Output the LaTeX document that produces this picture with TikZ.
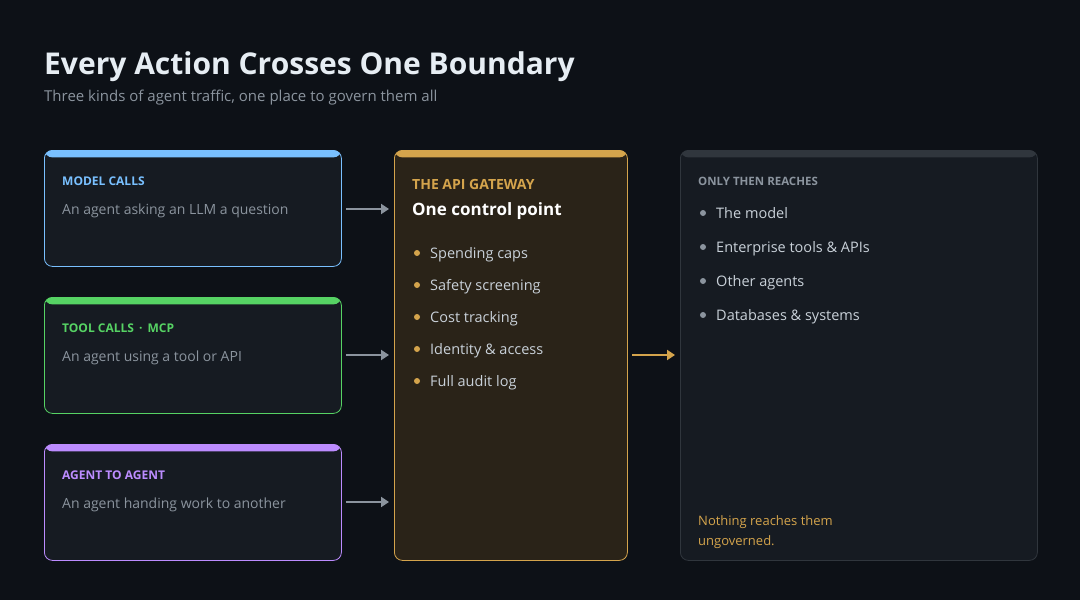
\documentclass[tikz,border=0pt]{standalone}
\usepackage{fontspec}
\setmainfont{Open Sans}
\usetikzlibrary{arrows.meta}
\definecolor{bg}{HTML}{0D1117}
\definecolor{cardbg}{HTML}{161B22}
\definecolor{cblue}{HTML}{79C0FF}
\definecolor{cgreen}{HTML}{56D364}
\definecolor{cpurple}{HTML}{BC8CFF}
\definecolor{gold}{HTML}{D4A44C}
\definecolor{gatebg}{HTML}{2A2318}
\definecolor{edge}{HTML}{30363D}
\definecolor{muted}{HTML}{8B949E}
\definecolor{light}{HTML}{C9D1D9}
\definecolor{titlec}{HTML}{E6EDF3}
\newcommand{\fs}[1]{\fontsize{#1}{#1}\selectfont}
\tikzset{
  card/.style 2 args={draw=#1, fill=#2, line width=0.8pt, rounded corners=8pt, anchor=north west,
    path picture={\fill[#1] (path picture bounding box.north west) rectangle ([yshift=-7pt]path picture bounding box.north east);}},
  txt/.style={anchor=base west, inner sep=0pt},
  garrow/.style={-{Triangle[length=8pt,width=10pt]}, line width=2.5pt},
  dot/.style={circle, inner sep=0pt, minimum size=6pt}
}
\begin{document}
\begin{tikzpicture}[x=1pt,y=-1pt]
\fill[bg] (0,0) rectangle (1080,600);
\useasboundingbox (0,0) rectangle (1080,600);
\node[txt, text=titlec, font=\fs{30}\bfseries] (title) at (44,74) {Every Action Crosses One Boundary};
\node[txt, text=muted, font=\fs{15}] (sub) at (44,101) {Three kinds of agent traffic, one place to govern them all};
% cards
\node[card={cblue}{cardbg}, minimum width=297pt, minimum height=116pt] (c1) at (44,150) {};
\node[card={cgreen}{cardbg}, minimum width=297pt, minimum height=116pt] (c2) at (44,297) {};
\node[card={cpurple}{cardbg}, minimum width=297pt, minimum height=116pt] (c3) at (44,444) {};
\node[txt, text=cblue, font=\fs{12}\bfseries] (h1) at (62,185) {MODEL CALLS};
\node[txt, text=muted, font=\fs{14}] (b1) at (62,214) {An agent asking an LLM a question};
\node[txt, text=cgreen, font=\fs{12}\bfseries] (h2) at (62,332) {TOOL CALLS \,·\, MCP};
\node[txt, text=muted, font=\fs{14}] (b2) at (62,361) {An agent using a tool or API};
\node[txt, text=cpurple, font=\fs{12}\bfseries] (h3) at (62,479) {AGENT TO AGENT};
\node[txt, text=muted, font=\fs{14}] (b3) at (62,508) {An agent handing work to another};
% gateway
\node[card={gold}{gatebg}, minimum width=233pt, minimum height=410pt] (gw) at (394,150) {};
\node[txt, text=gold, font=\fs{14}\bfseries] (gh) at (412,189) {THE API GATEWAY};
\node[txt, text=white, font=\fs{17}\bfseries] (gt) at (412,215) {One control point};
\foreach \t [count=\i] in {Spending caps,Safety screening,Cost tracking,Identity \& access,Full audit log}{
  \node[dot, fill=gold] (gd\i) at (417,{253+32*(\i-1)}) {};
  \node[txt, text=light, font=\fs{14.5}] (gl\i) at (430,{258+32*(\i-1)}) {\t};
}
% right
\node[card={edge}{cardbg}, minimum width=357pt, minimum height=410pt] (rt) at (680,150) {};
\node[txt, text=muted, font=\fs{11.5}\bfseries] (rh) at (698,185) {ONLY THEN REACHES};
\foreach \t [count=\i] in {The model,Enterprise tools \& APIs,Other agents,Databases \& systems}{
  \node[dot, fill=muted] (rd\i) at (703,{213+34*(\i-1)}) {};
  \node[txt, text=light, font=\fs{14.5}] (rl\i) at (716,{218+34*(\i-1)}) {\t};
}
\node[txt, text=gold, font=\fs{13}] (n1) at (698,525) {Nothing reaches them};
\node[txt, text=gold, font=\fs{13}] (n2) at (698,545) {ungoverned.};
% arrows
\coordinate (a1) at (346,209); \coordinate (e1) at (389,209);
\coordinate (a2) at (346,355); \coordinate (e2) at (389,355);
\coordinate (a3) at (346,502); \coordinate (e3) at (389,502);
\coordinate (a4) at (632,355); \coordinate (e4) at (675,355);
\draw[garrow, muted] (a1) -- (e1);
\draw[garrow, muted] (a2) -- (e2);
\draw[garrow, muted] (a3) -- (e3);
\draw[garrow, gold] (a4) -- (e4);
\end{tikzpicture}
\end{document}
